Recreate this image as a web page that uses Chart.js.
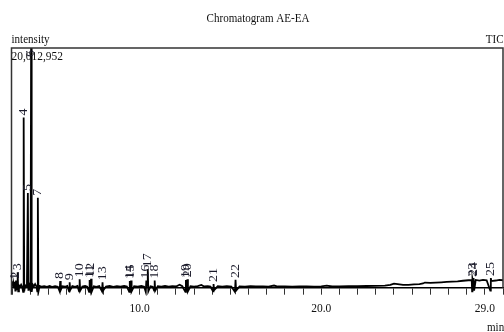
<!DOCTYPE html>
<html><head><meta charset="utf-8">
<script src="https://cdn.jsdelivr.net/npm/chart.js@4.4.1/dist/chart.umd.min.js"></script>
<style>html,body{margin:0;padding:0;background:#fff;}#wrap{width:504px;height:332px;position:relative;}</style>
</head><body><div id="wrap"><canvas id="c" width="504" height="332"></canvas></div>
<script>
// ---- data ----
const chartTitle = 'Chromatogram AE-EA';
const yMax = 20012952;
const xMin = 2.95, xMax = 30.0;
const labeledTicks = [10, 20, 29];

const peakNames = ['1','2','3','4','5','6','7','8','9','10','11','12','13','14','15','16','17','18','19','20','21','22','23','24','25'];
const peakTimes = [3.13,3.20,3.29,3.62,3.85,4.03,4.40,5.63,6.15,6.70,7.25,7.33,7.96,9.46,9.53,10.37,10.45,10.83,12.55,12.63,14.07,15.28,28.32,28.38,29.33];
const peakHeights = [500000,600000,1290000,14200000,7900000,21000000,7500000,550000,450000,700000,650000,750000,450000,550000,600000,600000,1550000,600000,650000,700000,300000,650000,750000,800000,800000];

const traceTime = [
 2.95,3.00,3.04,3.08,3.11,3.13,3.16,3.18,3.20,3.23,3.26,3.29,3.32,3.36,3.42,3.48,3.54,3.59,3.62,3.65,
 3.70,3.75,3.80,3.85,3.88,3.92,3.96,4.00,4.03,4.06,4.12,4.18,4.25,4.32,4.37,4.40,4.43,4.50,4.62,4.75,
 4.90,5.05,5.20,5.35,5.50,5.60,5.63,5.66,5.75,5.90,6.02,6.12,6.15,6.18,6.30,6.45,6.58,6.67,6.70,6.73,
 6.85,7.00,7.12,7.22,7.25,7.29,7.33,7.36,7.48,7.62,7.78,7.93,7.96,7.99,8.15,8.35,8.55,8.75,8.95,9.15,
 9.30,9.43,9.46,9.49,9.53,9.56,9.70,9.90,10.10,10.25,10.34,10.37,10.41,10.45,10.48,10.60,10.72,10.80,10.83,10.86,
 11.00,11.20,11.40,11.60,11.80,12.00,12.20,12.35,12.52,12.55,12.59,12.63,12.66,12.80,13.00,13.20,13.40,13.55,13.75,13.90,
 14.04,14.07,14.10,14.30,14.55,14.80,15.05,15.25,15.28,15.31,15.50,15.80,16.10,16.40,16.80,17.10,17.40,17.60,18.00,18.40,
 18.80,19.20,19.60,20.00,20.30,20.60,21.00,21.50,22.00,22.50,23.00,23.50,23.80,24.00,24.20,24.50,24.80,25.10,25.40,25.60,
 25.70,26.00,26.30,26.60,26.90,27.20,27.50,27.80,28.10,28.28,28.30,28.32,28.35,28.38,28.41,28.50,28.70,28.90,29.10,29.30,
 29.33,29.36,29.60,29.80,30.00
];
const traceIntensity = [
 150000,350000,60000,250000,40000,500000,-250000,80000,600000,-200000,100000,1290000,-300000,200000,80000,250000,60000,-350000,14200000,-300000,
 200000,100000,300000,7900000,-250000,300000,150000,-300000,21000000,-350000,250000,100000,300000,120000,-300000,7500000,-350000,150000,80000,130000,
 70000,140000,60000,130000,80000,-300000,550000,-200000,120000,80000,150000,-300000,450000,-200000,130000,70000,140000,-300000,700000,-250000,
 100000,150000,80000,-350000,650000,100000,750000,-350000,120000,70000,140000,-300000,450000,-250000,100000,150000,70000,130000,80000,140000,
 90000,-350000,550000,150000,600000,-300000,130000,80000,150000,90000,-350000,600000,150000,1550000,-300000,120000,80000,-250000,600000,-250000,
 130000,80000,150000,90000,130000,100000,250000,120000,-350000,650000,150000,700000,-300000,120000,90000,140000,230000,100000,130000,90000,
 -300000,300000,-200000,120000,90000,130000,100000,-350000,650000,-250000,110000,90000,120000,100000,110000,90000,180000,100000,110000,90000,
 110000,100000,90000,110000,170000,100000,110000,120000,120000,140000,150000,170000,230000,340000,300000,230000,240000,280000,300000,350000,
 430000,400000,430000,450000,480000,500000,530000,580000,620000,620000,-300000,750000,550000,800000,-250000,650000,600000,660000,620000,-250000,
 800000,550000,600000,650000,620000
];

// ---- helpers ----
function condText(ctx, text, x, y, sx, align) {
  ctx.save(); ctx.translate(x, y); ctx.scale(sx, 1);
  ctx.textAlign = align; ctx.textBaseline = 'alphabetic';
  ctx.fillText(text, 0, 0); ctx.restore();
}

const framePlugin = {
  id: 'frame',
  afterDraw(chart) {
    const ctx = chart.ctx, a = chart.chartArea;
    const xs = chart.scales.x, ys = chart.scales.y;
    ctx.save();
    ctx.strokeStyle = '#333'; ctx.lineWidth = 1.5;
    ctx.beginPath();
    ctx.moveTo(a.left, a.bottom + 7); ctx.lineTo(a.left, a.top); ctx.lineTo(a.right, a.top); ctx.lineTo(a.right, a.bottom);
    ctx.stroke();
    ctx.fillStyle = '#111';
    ctx.font = '13px "Liberation Serif"';
    condText(ctx, chartTitle, 258, 21.5, 0.85, 'center');
    condText(ctx, 'intensity', a.left, 43, 0.85, 'left');
    condText(ctx, 'TIC', a.right + 0.5, 42.5, 0.85, 'right');
    condText(ctx, yMax.toLocaleString('en-US'), a.left, 59.5, 0.88, 'left');
    condText(ctx, 'min', 487, 331, 0.85, 'left');
    ctx.font = '14px "Liberation Serif"';
    ctx.fillStyle = '#1a1a2a';
    peakNames.forEach((name, i) => {
      const x = xs.getPixelForValue(peakTimes[i]);
      const yApex = ys.getPixelForValue(Math.min(peakHeights[i], yMax));
      const w = ctx.measureText(name).width;
      const base = Math.max(yApex - 2, a.top + 2 + w);
      ctx.save();
      ctx.translate(x, base); ctx.scale(0.85, 1); ctx.rotate(-Math.PI / 2);
      ctx.textAlign = 'left'; ctx.textBaseline = 'middle';
      ctx.fillText(name, 0, 0);
      ctx.restore();
    });
    ctx.restore();
  }
};

new Chart(document.getElementById('c'), {
  type: 'line',
  data: { datasets: [{
    data: traceTime.map((t, i) => ({ x: t, y: traceIntensity[i] })),
    borderColor: '#000', borderWidth: 1.8, pointRadius: 0, tension: 0,
    clip: { left: 0, top: 0, right: 0, bottom: 8 }
  }]},
  options: {
    responsive: false, animation: false, devicePixelRatio: 1,
    layout: { padding: { left: 11.5, right: 1, top: 48, bottom: 9.5 } },
    plugins: { legend: { display: false }, tooltip: { enabled: false }, title: { display: false } },
    scales: {
      x: {
        type: 'linear', min: xMin, max: xMax,
        afterFit: (s) => { s.paddingLeft = 0; s.paddingRight = 0; },
        border: { display: true, color: '#000', width: 1.5 },
        grid: { display: true, drawOnChartArea: false, drawTicks: true, tickLength: 7, color: '#333', lineWidth: 1 },
        ticks: {
          stepSize: 1, includeBounds: false, autoSkip: false, maxRotation: 0, minRotation: 0, padding: 7,
          color: '#111', font: { family: 'Liberation Serif', size: 11.5 },
          callback: (v) => labeledTicks.some(L => Math.abs(L - v) < 1e-6) ? Number(v).toFixed(1) : ''
        }
      },
      y: { display: false, min: 0, max: yMax }
    }
  },
  plugins: [framePlugin]
});
</script>
</body></html>
